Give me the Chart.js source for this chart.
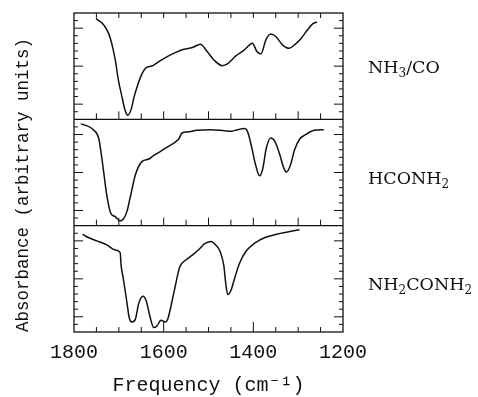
<!DOCTYPE html>
<html>
<head>
<meta charset="utf-8">
<script src="https://cdn.jsdelivr.net/npm/chart.js@4.4.0/dist/chart.umd.min.js"></script>
<style>
  html, body { margin: 0; padding: 0; background: #fff; }
  #wrap { position: relative; width: 478px; height: 397px; }
  .lbl { position: absolute; left: 368px; font-family: "DejaVu Serif", serif; font-size: 17.5px; color: #111; white-space: nowrap; line-height: 1; }
  .lbl sub { font-size: 12px; vertical-align: -4px; line-height: 0; }
</style>
</head>
<body>
<div id="wrap">
  <canvas id="chart" width="478" height="397"></canvas>
  <div class="lbl" style="top:59px">NH<sub>3</sub>/CO</div>
  <div class="lbl" style="top:170px">HCONH<sub>2</sub></div>
  <div class="lbl" style="top:276px">NH<sub>2</sub>CONH<sub>2</sub></div>
</div>
<script>
// Stacked IR absorbance spectra, three panels sharing one frequency axis
// Values: panel units 0..14, each spectrum offset into its own band

const nh3coFreq = [1751, 1734, 1723, 1716, 1708, 1701, 1693, 1686, 1680, 1672, 1666, 1658, 1648, 1639, 1626, 1611,
    1592, 1574, 1555, 1536, 1518, 1503, 1488, 1469, 1458, 1439, 1420, 1402, 1392, 1383, 1372, 1361, 1350, 1335,
    1320, 1308, 1293, 1279, 1267, 1258];
const nh3coAbs = [13.25, 12.46, 11.35, 10.03, 7.82, 5.17, 2.96, 1.19, 0.53, 1.41, 2.96, 4.5, 6.05, 6.8, 7.02, 7.6,
    8.26, 8.79, 9.23, 9.45, 9.89, 8.92, 7.82, 7.07, 7.29, 8.35, 9.14, 10.03, 8.92, 8.61, 10.47, 11.22, 10.91, 9.81,
    9.36, 9.81, 10.69, 11.79, 12.59, 12.81];

const hconh2Freq = [1785, 1772, 1757, 1745, 1740, 1734, 1727, 1718, 1708, 1698, 1690, 1682, 1675, 1663, 1648, 1633,
    1622, 1607, 1592, 1574, 1566, 1559, 1548, 1525, 1495, 1473, 1450, 1435, 1420, 1413, 1405, 1395, 1386, 1379,
    1371, 1361, 1352, 1341, 1332, 1326, 1317, 1308, 1296, 1286, 1264, 1243];
const hconh2Abs = [13.4, 13.17, 12.64, 11.54, 9.78, 7.14, 4.05, 1.63, 1.19, 0.62, 0.88, 1.85, 3.61, 6.7, 8.46, 8.77,
    9.25, 9.78, 10.35, 11.01, 11.45, 12.2, 12.33, 12.56, 12.64, 12.56, 12.42, 12.64, 12.78, 12.42, 10.66, 8.02, 6.56, 7.49,
    10.22, 11.54, 11.1, 9.34, 7.58, 7.05, 8.02, 10.0, 11.45, 11.89, 12.56, 12.64];

const ureaFreq = [1781, 1768, 1749, 1727, 1708, 1697, 1695, 1690, 1682, 1677, 1671, 1663, 1656, 1646, 1639, 1631,
    1622, 1615, 1606, 1596, 1591, 1577, 1564, 1551, 1536, 1521, 1510, 1495, 1484, 1474, 1466, 1461, 1457, 1450,
    1442, 1431, 1416, 1397, 1374, 1346, 1297];
const ureaAbs = [12.89, 12.44, 12.0, 11.47, 10.8, 10.44, 8.8, 7.02, 3.91, 1.91, 1.33, 1.69, 3.69, 4.71, 4.13, 2.13,
    0.58, 0.8, 1.56, 1.33, 1.69, 5.24, 8.58, 9.47, 10.13, 10.89, 11.56, 11.91, 11.47, 10.58, 8.8, 6.13, 4.93, 5.47,
    7.02, 9.02, 10.67, 11.69, 12.44, 12.89, 13.47];

const freqLabels = [1800, 1600, 1400, 1200];
const panelSpan = 14;          // height of one panel in data units
const majorY = [2, 7, 12];     // longer y ticks inside each panel
const mono = '"Liberation Mono", monospace';

function series(freq, abs, panel) {
    // panel 0 = bottom; shift into its band on the shared y scale
    return freq.map((f, i) => ({ x: f, y: abs[i] + panel * panelSpan }));
}

const frame = {
    id: 'frame',
    afterDatasetsDraw(chart) {
        const { ctx, chartArea: a, scales: { x, y } } = chart;
        ctx.save();
        ctx.strokeStyle = '#111';
        ctx.lineWidth = 1.3;
        ctx.strokeRect(a.left, a.top, a.right - a.left, a.bottom - a.top);
        for (let p = 1; p < 3; p++) {
            const yy = y.getPixelForValue(p * panelSpan);
            ctx.beginPath(); ctx.moveTo(a.left, yy); ctx.lineTo(a.right, yy); ctx.stroke();
        }
        ctx.lineWidth = 1;
        ctx.beginPath();
        // x ticks every 50
        for (let f = 1250; f < 1800; f += 50) {
            const xx = x.getPixelForValue(f);
            ctx.moveTo(xx, a.top); ctx.lineTo(xx, a.top + 5);
            for (let p = 1; p < 3; p++) {
                const yy = y.getPixelForValue(p * panelSpan);
                const len = f % 100 === 0 ? 8 : 6;
                ctx.moveTo(xx, yy); ctx.lineTo(xx, yy - len);
            }
            const lb = (f % 200 === 0) ? 10 : 5;
            ctx.moveTo(xx, a.bottom); ctx.lineTo(xx, a.bottom - lb);
        }
        // y ticks every unit
        for (let v = 1; v < 3 * panelSpan; v++) {
            if (v % panelSpan === 0) continue;
            const yy = y.getPixelForValue(v);
            const len = majorY.includes(v % panelSpan) ? 9 : 4;
            ctx.moveTo(a.left, yy); ctx.lineTo(a.left + len, yy);
            ctx.moveTo(a.right, yy); ctx.lineTo(a.right - len, yy);
        }
        ctx.stroke();

        // left axis title
        ctx.fillStyle = '#111';
        ctx.font = '17.5px ' + mono;
        ctx.textAlign = 'center';
        ctx.textBaseline = 'middle';
        ctx.translate(23, 185);
        ctx.rotate(-Math.PI / 2);
        ctx.fillText('Absorbance (arbitrary units)', 0, 0);
        ctx.restore();
    }
};

const lineStyle = { borderColor: '#111', borderWidth: 1.5, pointRadius: 0, fill: false, cubicInterpolationMode: 'monotone' };

new Chart(document.getElementById('chart'), {
    type: 'line',
    data: {
        datasets: [
            Object.assign({ label: 'NH3/CO', data: series(nh3coFreq, nh3coAbs, 2) }, lineStyle),
            Object.assign({ label: 'HCONH2', data: series(hconh2Freq, hconh2Abs, 1) }, lineStyle),
            Object.assign({ label: 'NH2CONH2', data: series(ureaFreq, ureaAbs, 0) }, lineStyle)
        ]
    },
    options: {
        responsive: false,
        animation: false,
        layout: { padding: { left: 74, right: 135, top: 13, bottom: 0 } },
        plugins: { legend: { display: false }, tooltip: { enabled: false } },
        scales: {
            x: {
                type: 'linear', min: 1200, max: 1800, reverse: true,
                grid: { display: false, drawTicks: false },
                border: { display: false },
                afterBuildTicks: s => { s.ticks = freqLabels.map(v => ({ value: v })); },
                ticks: { padding: 11, color: '#111', maxRotation: 0, font: { family: mono, size: 20, lineHeight: 1 }, callback: v => String(v) },
                title: { display: true, text: 'Frequency (cm⁻¹)', color: '#111', padding: { top: 0, bottom: 0 }, font: { family: mono, size: 20, lineHeight: 1.15 } }
            },
            y: { display: false, min: 0, max: 3 * panelSpan }
        }
    },
    plugins: [frame]
});
</script>
</body>
</html>
